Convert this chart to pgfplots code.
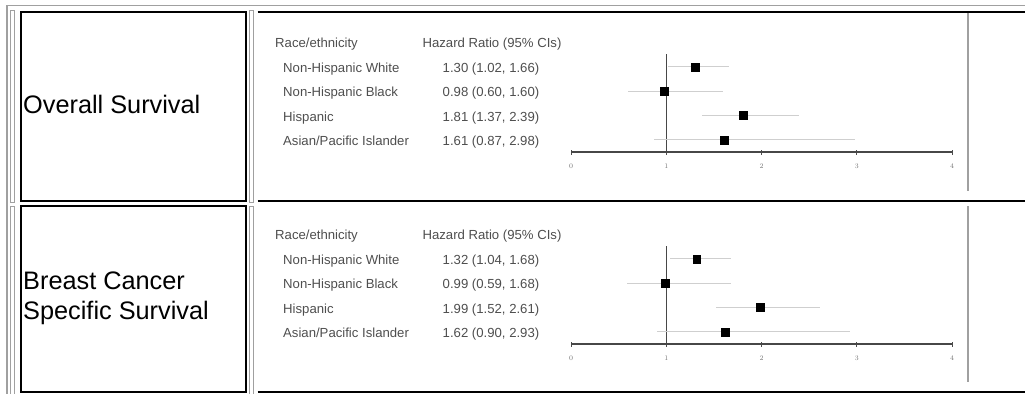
\documentclass[border=0pt]{standalone}
\usepackage{fontspec}
\setmainfont{Liberation Sans}
\usepackage{pgfplots}
\pgfplotsset{compat=1.18}
\definecolor{cellgray}{HTML}{A0A0A0}
\definecolor{txtgray}{HTML}{4E4E4E}
\definecolor{cigray}{HTML}{CFCFCF}

\pgfplotsset{forest/.style={
  anchor=origin, x=95.25bp, y=24.3bp,
  xmin=0, xmax=4, ymin=0, ymax=4.1, clip=false,
  axis x line=bottom, axis y line=none,
  x axis line style={-, draw=black!72, line width=1.1bp},
  xtick={0,1,2,3,4}, ytick=\empty,
  tick align=center, major tick length=5bp,
  x tick style={draw=black!70, line width=0.8bp},
  xticklabel style={font=\fontsize{7}{8}\selectfont, text=black!55, yshift=-6bp},
}}

\begin{document}
\begin{tikzpicture}
\path[use as bounding box] (0,0) rectangle (1025bp,-394bp);
\begin{scope}[x=1bp,y=-1bp]
  % outer frame
  \draw[cellgray, line width=1.2bp] (7,394) -- (7,5.5) -- (1025,5.5);
  % narrow gray cells
  \foreach \xa in {10.5,249.5} {
    \draw[cellgray, line width=1bp] (\xa,10) rectangle ++(4,192);
    \draw[cellgray, line width=1bp] (\xa,206) -- (\xa+4,206) -- (\xa+4,394);
    \draw[cellgray, line width=1bp] (\xa,206) -- (\xa,394);
  }
  % black boxes
  \draw[black, line width=2bp] (21,12) rectangle (245.5,200.5);
  \draw[black, line width=2bp] (21,206) rectangle (245.5,392);
  \draw[black, line width=2bp] (257.5,12) -- (1025,12);
  \draw[black, line width=2bp] (257.5,200.5) -- (1025,200.5);
  \draw[black, line width=2bp] (257.5,392) -- (1025,392);
  % gray borders of plot images
  \draw[cellgray, line width=1.5bp] (968,13) -- (968,191);
  \draw[cellgray, line width=1.5bp] (968,206) -- (968,382);

  % left cell text
  \node[anchor=base west, inner sep=0pt, font=\fontsize{25.4}{30}\selectfont] at (23,113) {Overall Survival};
  \node[anchor=base west, inner sep=0pt, font=\fontsize{25.4}{30}\selectfont] at (23,289) {Breast Cancer};
  \node[anchor=base west, inner sep=0pt, font=\fontsize{25.4}{30}\selectfont] at (23,319) {Specific Survival};

  % forest plot texts, row 1
  \begin{scope}[every node/.style={inner sep=0pt, text=txtgray, font=\fontsize{13.2}{15}\selectfont}]
    \node[anchor=base west] at (275,47.8) {Race/ethnicity};
    \node[anchor=base] at (492,47.8) {Hazard Ratio (95\% CIs)};
    \node[anchor=base west] at (283,72.8) {Non-Hispanic White};
    \node[anchor=base west] at (283,96.8) {Non-Hispanic Black};
    \node[anchor=base west] at (283,121.2) {Hispanic};
    \node[anchor=base west] at (283,145.5) {Asian/Pacific Islander};
    \node[anchor=base] at (491,72.8) {1.30 (1.02, 1.66)};
    \node[anchor=base] at (491,96.8) {0.98 (0.60, 1.60)};
    \node[anchor=base] at (491,121.2) {1.81 (1.37, 2.39)};
    \node[anchor=base] at (491,145.5) {1.61 (0.87, 2.98)};
    % row 2
    \node[anchor=base west] at (275,239.8) {Race/ethnicity};
    \node[anchor=base] at (492,239.8) {Hazard Ratio (95\% CIs)};
    \node[anchor=base west] at (283,264.8) {Non-Hispanic White};
    \node[anchor=base west] at (283,288.8) {Non-Hispanic Black};
    \node[anchor=base west] at (283,313.2) {Hispanic};
    \node[anchor=base west] at (283,337.5) {Asian/Pacific Islander};
    \node[anchor=base] at (491,264.8) {1.32 (1.04, 1.68)};
    \node[anchor=base] at (491,288.8) {0.99 (0.59, 1.68)};
    \node[anchor=base] at (491,313.2) {1.99 (1.52, 2.61)};
    \node[anchor=base] at (491,337.5) {1.62 (0.90, 2.93)};
  \end{scope}
\end{scope}

% Overall survival forest plot
\begin{axis}[forest, at={(571bp,-152bp)}]
  \addplot[black!72, line width=1.2bp] coordinates {(1,0) (1,4.05)};
  \addplot[only marks, mark=square*, mark size=3.9bp, mark options={draw=black, fill=black},
    error bars/.cd, x dir=both, x explicit, error mark=none,
    error bar style={draw=cigray, line width=1bp}]
    coordinates {
      (1.30,3.5) -= (0.28,0) += (0.36,0)
      (0.98,2.5) -= (0.38,0) += (0.62,0)
      (1.81,1.5) -= (0.44,0) += (0.58,0)
      (1.61,0.5) -= (0.74,0) += (1.37,0)
    };
\end{axis}

% Breast cancer specific survival forest plot
\begin{axis}[forest, at={(571bp,-344bp)}]
  \addplot[black!72, line width=1.2bp] coordinates {(1,0) (1,4.05)};
  \addplot[only marks, mark=square*, mark size=3.9bp, mark options={draw=black, fill=black},
    error bars/.cd, x dir=both, x explicit, error mark=none,
    error bar style={draw=cigray, line width=1bp}]
    coordinates {
      (1.32,3.5) -= (0.28,0) += (0.36,0)
      (0.99,2.5) -= (0.40,0) += (0.69,0)
      (1.99,1.5) -= (0.47,0) += (0.62,0)
      (1.62,0.5) -= (0.72,0) += (1.31,0)
    };
\end{axis}
\end{tikzpicture}
\end{document}
